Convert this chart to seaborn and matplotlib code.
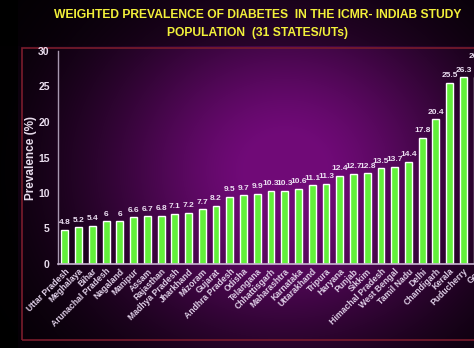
import numpy as np
import pandas as pd
import seaborn as sns
import matplotlib.pyplot as plt
from matplotlib.patches import Rectangle

states = ["Uttar Pradesh", "Meghalaya", "Bihar", "Arunachal Pradesh", "Nagaland",
          "Manipur", "Assam", "Rajasthan", "Madhya Pradesh", "Jharkhand", "Mizoram",
          "Gujarat", "Andhra Pradesh", "Odisha", "Telangana", "Chhattisgarh",
          "Maharashtra", "Karnataka", "Uttarakhand", "Tripura", "Haryana", "Punjab",
          "Sikkim", "Himachal Pradesh", "West Bengal", "Tamil Nadu", "Delhi",
          "Chandigarh", "Kerala", "Puducherry", "Goa"]
prevalence = [4.8, 5.2, 5.4, 6, 6, 6.6, 6.7, 6.8, 7.1, 7.2, 7.7, 8.2, 9.5, 9.7, 9.9,
              10.3, 10.3, 10.6, 11.1, 11.3, 12.4, 12.7, 12.8, 13.5, 13.7, 14.4, 17.8,
              20.4, 25.5, 26.3, 26.4]
title = "WEIGHTED PREVALENCE OF DIABETES  IN THE ICMR- INDIAB STUDY\nPOPULATION  (31 STATES/UTs)"

df = pd.DataFrame({"state": states, "prev": prevalence})

sns.set_style("white")
plt.rcParams["font.family"] = ["Liberation Sans", "DejaVu Sans"]

fig = plt.figure(figsize=(4.74, 3.48), dpi=100)
fig.patch.set_facecolor("black")

# purple radial background, as on the slide
bg = fig.add_axes([0, 0, 1, 1], zorder=-2)
W, H = 474, 348
xx, yy = np.meshgrid(np.arange(W), np.arange(H))
inten = np.exp(-((xx - 285) / 190.0) ** 2 - ((yy - 170) / 170.0) ** 2)
inten = np.clip(inten * 1.05, 0, 1)
inten[:, :18] *= 0.15
inten[:46, :] *= 0.6
base = np.array([0.44, 0.04, 0.47])
img = inten[..., None] * base[None, None, :]
bg.imshow(img, extent=[0, 1, 0, 1], aspect="auto", origin="upper")
bg.set_axis_off()
bg.add_patch(Rectangle((22 / W, 1 - 340 / H), 1.2, (340 - 48) / H,
                       transform=bg.transAxes, fill=False, edgecolor="#7a1c2c", lw=1.2))

fig.text(0.543, 0.975, title, ha="center", va="top", color="#f2f03a",
         fontsize=8.7, fontweight="bold", linespacing=1.75)

ax = fig.add_axes([58 / W, 1 - 264 / H, (484 - 58) / W, (264 - 51) / H])
ax.set_facecolor("none")
sns.barplot(data=df, x="state", y="prev", color="#62f03a", width=0.5,
            saturation=1, ax=ax)
ax.set_xlim(-0.5, 30.5)
ax.set_ylim(0, 30)
ax.set_yticks(range(0, 31, 5))
for i, v in enumerate(prevalence):
    # last label (Goa) is raised on the slide so it clears Puducherry's
    lift = 2.3 if i == len(prevalence) - 1 else 0.5
    ax.text(i, v + lift, f"{v:g}", ha="center", va="bottom", color="#ecdff2",
            fontsize=6, fontweight="bold", clip_on=False)

ax.set_xlabel("")
ax.set_ylabel("Prevalence (%)", color="#e8dcec", fontsize=8.5, fontweight="bold", labelpad=1)
ax.tick_params(axis="y", length=0, pad=6, labelcolor="#e8dcec", labelsize=7.5)
ax.tick_params(axis="x", length=0, pad=2, labelcolor="#e0d0e8", labelsize=6.2)
for lab in ax.get_yticklabels():
    lab.set_fontweight("bold")
plt.setp(ax.get_xticklabels(), rotation=45, ha="right", rotation_mode="anchor",
         fontweight="bold")
sns.despine(ax=ax, top=True, right=True)
ax.spines["left"].set_color("#a898b0")
ax.spines["bottom"].set_color("#c8b4d0")
ax.spines["left"].set_linewidth(1)
ax.spines["bottom"].set_linewidth(1.2)

fig.savefig("out.png", dpi=100, facecolor=fig.get_facecolor())
